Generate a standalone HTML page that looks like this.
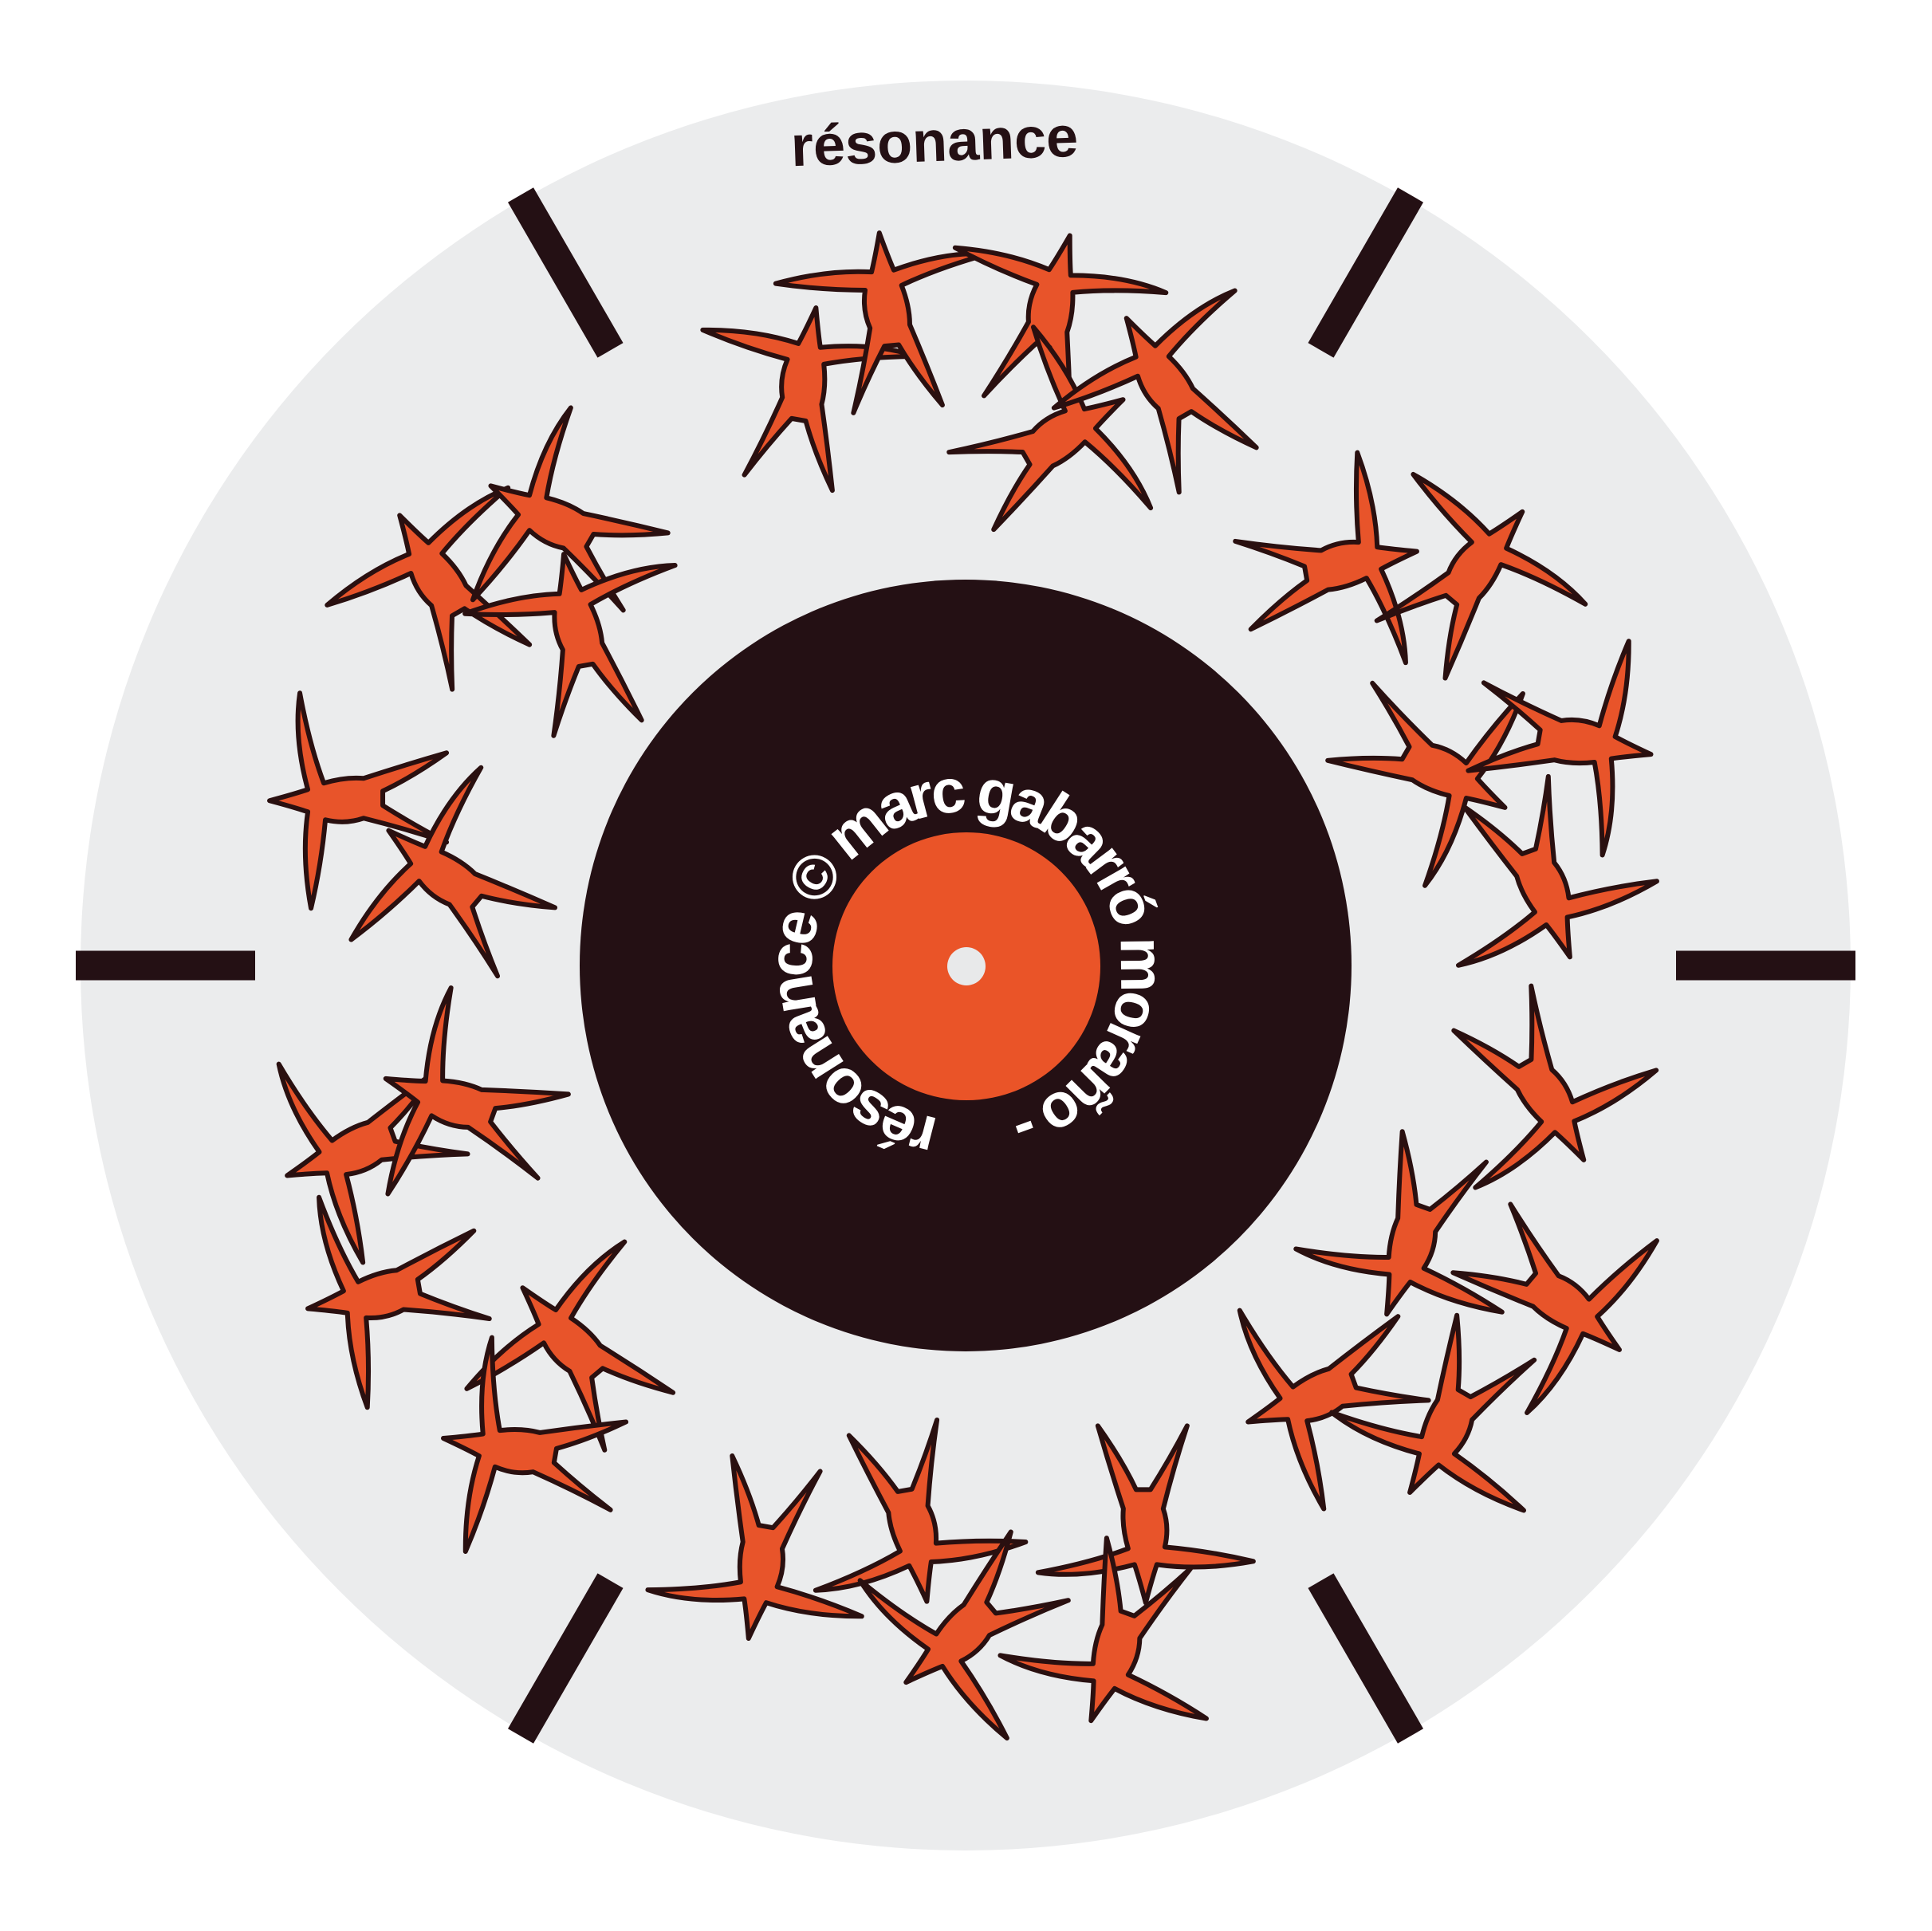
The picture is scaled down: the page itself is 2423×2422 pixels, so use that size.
<!DOCTYPE html>
<html><head><meta charset="utf-8"><style>
html,body{margin:0;padding:0;background:#fff;}
svg{display:block;}
</style></head><body>
<svg width="2423" height="2422" viewBox="0 0 2423 2422" xmlns="http://www.w3.org/2000/svg">
<defs>
<path id="innerPath" d="M1212,1404 A192,192 0 1,1 1212.1,1404" />
</defs>
<circle cx="1211" cy="1211" r="1110" fill="#ebeced"/>
<g id="ticks"></g>
<g id="figs"></g>
<circle cx="1211" cy="1211" r="484" fill="#241014"/>
<circle cx="1212" cy="1212" r="168" fill="#ea5428"/>
<circle cx="1212" cy="1212" r="24" fill="#e8e9ea"/>
<text font-family="Liberation Sans, sans-serif" font-weight="bold" font-size="78" fill="#fff"><textPath href="#innerPath" startOffset="0" textLength="1130" lengthAdjust="spacing">résonance © marc gabarró moraño -</textPath></text>
<text x="1172" y="202" text-anchor="middle" font-family="Liberation Sans, sans-serif" font-weight="bold" font-size="72" fill="#241014" transform="rotate(-2 1172 180)">résonance</text>
</svg>
<script>
var ip=document.getElementById('innerPath');
var cx=1212,cy=1212,r=194,a0=100*Math.PI/180;
var sx=cx+r*Math.cos(a0),sy=cy+r*Math.sin(a0);
var ex=cx+r*Math.cos(a0-0.001),ey=cy+r*Math.sin(a0-0.001);
ip.setAttribute('d','M'+sx+','+sy+' A'+r+','+r+' 0 1,1 '+ex+','+ey);

var ns='http://www.w3.org/2000/svg';
var tickAngles=[0,60,120,180,240,300];
var tg=document.getElementById('ticks');
tickAngles.forEach(function(a){
  var t=a*Math.PI/180;
  var l=document.createElementNS(ns,'line');
  l.setAttribute('x1',1211+891*Math.cos(t));l.setAttribute('y1',1211+891*Math.sin(t));
  l.setAttribute('x2',1211+1116*Math.cos(t));l.setAttribute('y2',1211+1116*Math.sin(t));
  l.setAttribute('stroke','#241014');l.setAttribute('stroke-width','37');
  
  
  tg.appendChild(l);
});
var figX=[650,720,850,850,950,1080,1190,1160,1270,1250,1250,1150,1260,1080,1180,620,740,790,930,910,300,380,320,470,430,360,460,470,290,370];
var figY=[320,260,260,360,320,460,470,620,600,710,880,1000,1050,1130,1150,1260,1230,1320,1230,1330,930,900,1050,1100,1180,480,430,520,650,720];
var figRot=[10,-5,15,60,-30,80,40,120,100,160,150,200,130,250,210,190,170,230,180,200,250,290,260,320,280,330,300,350,270,310];
var fg=document.getElementById('figs');
var d='M0,-110 Q8,-80 14,-62 Q80,-80 135,-72 Q70,-60 22,-42 Q30,-15 28,8 Q45,60 60,112 Q30,70 12,32 L-6,32 Q-30,70 -52,112 Q-35,60 -22,8 Q-30,-15 -24,-40 Q-80,-45 -135,-58 Q-70,-70 -14,-62 Q-8,-80 0,-110 Z';
for(var i=0;i<figX.length;i++){
  var p=document.createElementNS(ns,'path');
  p.setAttribute('d',d);
  p.setAttribute('fill','#e8542a');p.setAttribute('stroke','#2a1010');p.setAttribute('stroke-width','6');
  p.setAttribute('stroke-linejoin','round');
  p.setAttribute('transform','translate('+(figX[i]*1.545)+','+(figY[i]*1.545)+') rotate('+figRot[i]+') scale(1.0)');
  
  
  fg.appendChild(p);
}
</script>
</body></html>
